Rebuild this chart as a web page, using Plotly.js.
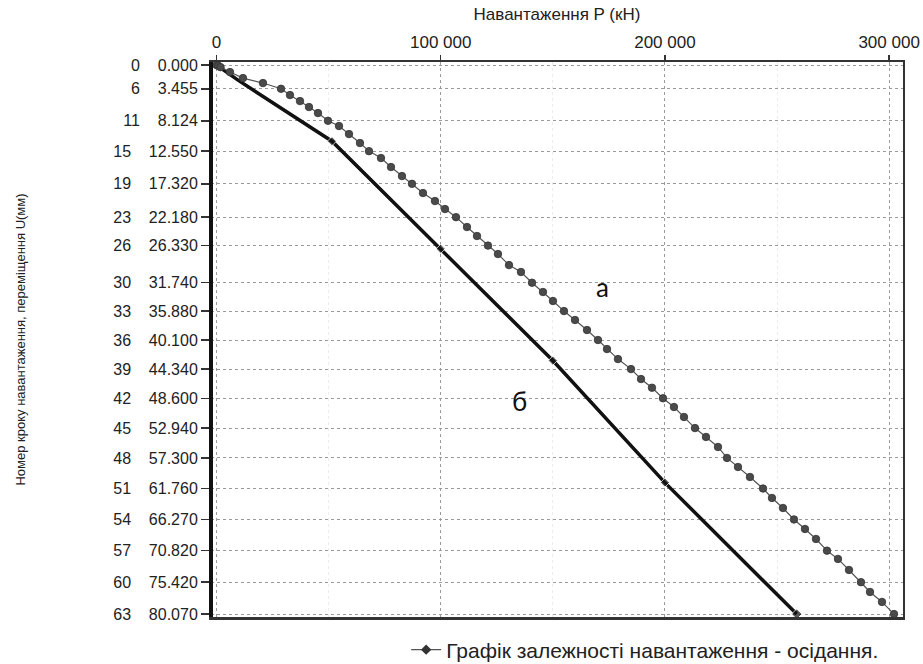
<!DOCTYPE html>
<html>
<head>
<meta charset="utf-8">
<script src="https://cdn.plot.ly/plotly-3.0.1.min.js"></script>
<style>
  html, body { margin: 0; padding: 0; background: #fff; }
  #chart { width: 923px; height: 664px; }
</style>
</head>
<body>
<div id="chart"></div>
<script>
// Curve "а": load P (kN) and settlement U (mm) per load step 0..63
const loadA = [0, 800, 1800, 6020, 11820, 20740, 28770, 32780, 37240, 41250,
  45270, 49730, 54640, 59100, 64000, 68020, 73370, 77830, 82730, 87190,
  92100, 97450, 101910, 106820, 111720, 116190, 121090, 125550, 130460, 135810,
  140720, 145620, 150080, 154990, 159900, 165250, 170150, 174170, 179080, 184880,
  189340, 194240, 199150, 204050, 208510, 213420, 218330, 223680, 227690, 232600,
  237950, 243750, 247760, 252670, 257570, 262480, 267390, 272290, 277200, 282110,
  287460, 291480, 296830, 302180];
const settleA = [0, 0.1, 0.3, 1.02, 1.90, 2.62, 3.455, 4.37, 5.25, 6.12,
  7.00, 8.124, 8.89, 10.06, 11.37, 12.55, 13.56, 14.87, 16.19, 17.32,
  18.66, 19.83, 21.00, 22.18, 23.62, 24.93, 26.33, 27.56, 29.17, 30.18,
  31.74, 33.10, 34.41, 35.88, 37.18, 38.64, 40.10, 41.42, 42.88, 44.34,
  45.79, 47.06, 48.60, 49.87, 51.33, 52.94, 54.24, 55.70, 57.30, 58.62,
  60.08, 61.76, 63.14, 64.60, 66.27, 67.66, 69.12, 70.82, 72.03, 73.64,
  75.42, 76.85, 78.30, 80.07];

// Curve "б"
const loadB = [0, 9600, 51500, 100000, 150000, 200000, 258800];
const settleB = [0, 2.2, 11.1, 26.8, 43.1, 60.9, 80.07];
const markB = [0, 0, 7, 7, 7, 7, 8];

// Y tick labels: load step number and displacement U (mm)
const tickSteps = [0, 6, 11, 15, 19, 23, 26, 30, 33, 36, 39, 42, 45, 48, 51, 54, 57, 60, 63];
const tickU = [0, 3.455, 8.124, 12.55, 17.32, 22.18, 26.33, 31.74, 35.88, 40.1,
  44.34, 48.6, 52.94, 57.3, 61.76, 66.27, 70.82, 75.42, 80.07];
const tickULabels = ['0.000', '3.455', '8.124', '12.550', '17.320', '22.180', '26.330',
  '31.740', '35.880', '40.100', '44.340', '48.600', '52.940', '57.300', '61.760',
  '66.270', '70.820', '75.420', '80.070'];

// X ticks
const xTickVals = [0, 100000, 200000, 300000];
const xTickText = ['0', '100 000', '200 000', '300 000'];

const legendName = 'Графік залежності навантаження - осідання.';
const xTitle = 'Навантаження P (кН)';
const yTitle = 'Номер кроку навантаження, переміщення U(мм)';

const yTickText = tickSteps.map((s, i) => s + '\u00a0\u00a0\u00a0\u00a0' + tickULabels[i]);

const FONT = 'Liberation Sans, Arial, sans-serif';

const traces = [
  {
    x: loadB, y: settleB, type: 'scatter', mode: 'lines+markers',
    line: { color: '#111', width: 3.5 },
    marker: { symbol: 'diamond', size: markB, color: '#111' },
    showlegend: false, hoverinfo: 'skip'
  },
  {
    x: loadA, y: settleA, type: 'scatter', mode: 'lines+markers',
    line: { color: '#555', width: 1.2 },
    marker: { symbol: 'circle', size: 7.5, color: '#4a4a4a', line: { color: '#333', width: 0.8 } },
    showlegend: false, hoverinfo: 'skip'
  },
  {
    x: [null], y: [null], type: 'scatter', mode: 'lines+markers',
    name: legendName,
    line: { color: '#555', width: 1.2 },
    marker: { symbol: 'diamond', size: 8, color: '#333' },
    showlegend: true
  }
];

const layout = {
  width: 923, height: 664,
  margin: { l: 211, r: 20, t: 62, b: 47, pad: 0, autoexpand: false },
  paper_bgcolor: '#fff', plot_bgcolor: '#fff',
  font: { family: FONT, color: '#222', size: 15 },
  showlegend: true,
  legend: {
    orientation: 'h', x: 0.282, xanchor: 'left', y: -0.0595, yanchor: 'middle',
    font: { family: FONT, size: 21, color: '#222' },
    bgcolor: 'rgba(0,0,0,0)', itemwidth: 30
  },
  xaxis: {
    side: 'top',
    range: [-2450, 306200],
    tickvals: xTickVals, ticktext: xTickText,
    ticks: 'outside', ticklen: 5, tickwidth: 1.5, tickcolor: '#333',
    tickfont: { family: FONT, size: 17, color: '#222' },
    showline: true, mirror: true, linecolor: '#333', linewidth: 2.5,
    showgrid: true, gridcolor: '#9a9a9a', griddash: 'dot', gridwidth: 1,
    minor: { dtick: 50000, tick0: 0, showgrid: true, gridcolor: '#ececec', gridwidth: 1, ticks: '' },
    zeroline: false,
    title: { text: xTitle, font: { family: FONT, size: 17, color: '#222' }, standoff: 8 }
  },
  yaxis: {
    range: [80.5, -0.45],
    tickvals: tickU, ticktext: yTickText,
    ticks: 'outside', ticklen: 8, tickwidth: 1.5, tickcolor: '#333',
    tickfont: { family: FONT, size: 16, color: '#222' },
    showline: true, mirror: true, linecolor: '#333', linewidth: 2,
    showgrid: true, gridcolor: '#9a9a9a', griddash: 'dot', gridwidth: 1,
    zeroline: false,
    title: { text: yTitle, font: { family: FONT, size: 13, color: '#222' }, standoff: 85 }
  },
  shapes: [
    { type: 'line', xref: 'paper', yref: 'paper', x0: 0, x1: 0, y0: 0, y1: 1,
      line: { color: '#111', width: 4 } }
  ],
  annotations: [
    { x: 172000, y: 32.3, xref: 'x', yref: 'y', text: 'а', showarrow: false,
      font: { family: 'Lato, Open Sans, sans-serif', size: 26, color: '#111' } },
    { x: 135000, y: 49.0, xref: 'x', yref: 'y', text: 'б', showarrow: false,
      font: { family: 'Lato, Open Sans, sans-serif', size: 26, color: '#111' } }
  ]
};

Plotly.newPlot('chart', traces, layout, { displayModeBar: false, staticPlot: true });
</script>
</body>
</html>
